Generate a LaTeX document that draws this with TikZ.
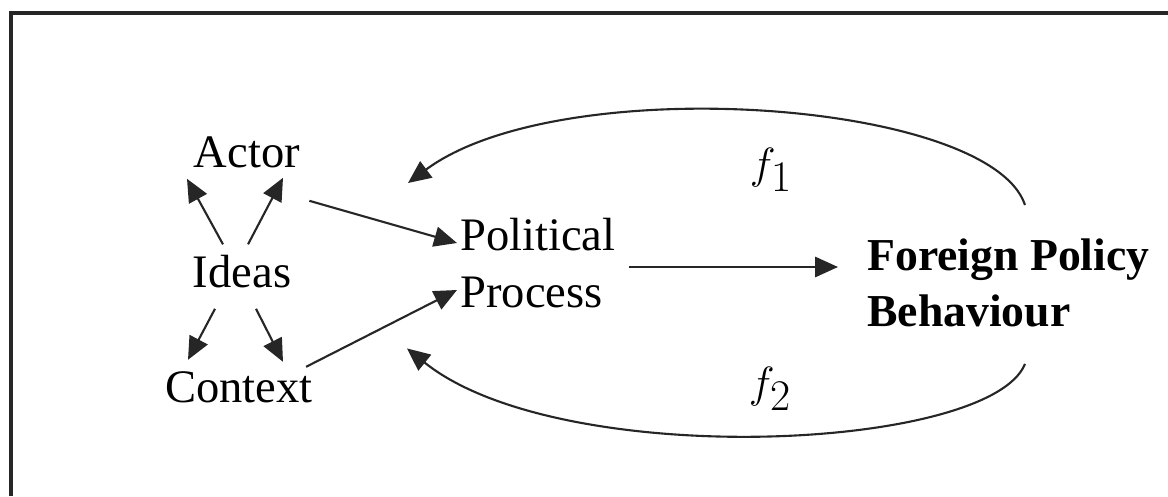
\documentclass[tikz,border=0pt]{standalone}
\usepackage{fontspec}
\setmainfont{Liberation Serif}
\usepackage{tikz}
\usetikzlibrary{arrows.meta,positioning,calc}

\begin{document}
\begin{tikzpicture}[
    >={Triangle[length=13pt,width=11.5pt]},
    font=\fontsize{26.5}{32.4}\selectfont,
    term/.style={
        inner sep=0pt,
        anchor=base
    },
    block/.style={
        inner sep=0pt,
        anchor=north west,
        align=left
    },
    loop label/.style={
        inner sep=0pt,
        font=\fontsize{34}{40}\selectfont
    },
    arr/.style={->, line width=1.2pt, black!85},
    frame/.style={line width=1.8pt, black!85}
]

\useasboundingbox (0,0) rectangle (23.36,9.92);
\draw[frame] (0.22,0) -- (0.22,9.66) -- (23.36,9.66);

% left cluster
\node[term] (actor) at (4.94,6.58) {Actor};
\node[term] (ideas) at (4.84,4.18) {Ideas};
\node[term] (context) at (4.78,1.88) {Context};

\node[block] (pp) at (9.2,5.56) {Political\\Process};
\node[block, font=\fontsize{26}{32.4}\selectfont\bfseries] (fpb) at (17.34,5.16)
{Foreign Policy\\Behaviour};

\node[loop label] (f1) at (15.42,6.52) {$f_1$};
\node[loop label] (f2) at (15.40,2.14) {$f_2$};

\draw[arr] ([shift={(-0.38,0.2)}]ideas.north) -- ([shift={(-1.2,-0.22)}]actor.south);
\draw[arr] ([shift={(0.12,0.2)}]ideas.north) -- ([shift={(0.72,-0.2)}]actor.south);
\draw[arr] ([shift={(-0.54,-0.42)}]ideas.south) -- ([shift={(-1.02,0.22)}]context.north);
\draw[arr] ([shift={(0.28,-0.42)}]ideas.south) -- ([shift={(0.88,0.18)}]context.north);

\draw[arr] ([shift={(0.18,-0.66)}]actor.south east) -- ([shift={(-0.06,-0.5)}]pp.north west);
\draw[arr] ([shift={(-0.14,0.08)}]context.north east) -- ([shift={(-0.06,-1.44)}]pp.north west);
\draw[arr] ([shift={(0.26,-0.98)}]pp.north east) -- ([shift={(-0.58,-0.58)}]fpb.north west);

% feedback loops
\draw[arr] ([shift={(3.16,0.66)}]fpb.north west)
    .. controls +(-0.7,2.1) and +(3.04,2.26) .. ([shift={(-1.04,0.7)}]pp.north west);
\draw[arr] ([shift={(3.16,-0.72)}]fpb.south west)
    .. controls +(-0.7,-1.74) and +(3.06,-2.46) .. ([shift={(-1.06,-0.8)}]pp.south west);

\end{tikzpicture}
\end{document}
